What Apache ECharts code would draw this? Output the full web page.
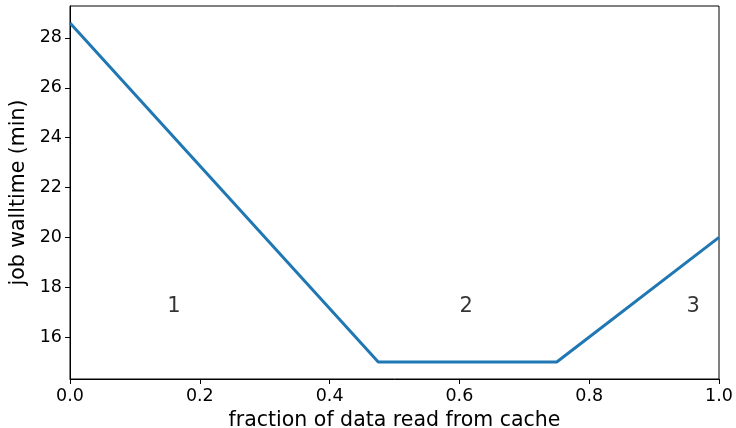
<!DOCTYPE html>
<html>
<head>
<meta charset="utf-8">
<script src="https://cdn.jsdelivr.net/npm/echarts@6/dist/echarts.min.js"></script>
<style>
  html, body { margin: 0; padding: 0; background: #fff; }
  #chart { width: 736px; height: 428px; }
</style>
</head>
<body>
<div id="chart"></div>
<script>
// Walltime model: three regimes as the cached fraction grows
const cacheFraction = [0.0, 0.475, 0.75, 1.0];
const walltimeMin = [28.6, 15.0, 15.0, 20.0];

// Regime labels and where they sit (x, y in data units)
const regimeNames = ['1', '2', '3'];
const regimeX = [0.15, 0.6, 0.95];
const regimeY = [17, 17, 17];

const xTicks = [0.0, 0.2, 0.4, 0.6, 0.8, 1.0];
const yTicks = [16, 18, 20, 22, 24, 26, 28];

const FONT = 'DejaVu Sans';

const chart = echarts.init(document.getElementById('chart'), null, { renderer: 'canvas' });

chart.setOption({
  animation: false,
  backgroundColor: '#fff',
  grid: {
    left: 70, right: 17, top: 6, bottom: 49,
    containLabel: false, outerBoundsMode: 'none',
    show: true, borderColor: '#000', borderWidth: 1, backgroundColor: 'transparent'
  },
  xAxis: {
    type: 'value', min: 0, max: 1, interval: 0.2,
    name: 'fraction of data read from cache',
    nameLocation: 'middle', nameGap: 28,
    nameTextStyle: { fontFamily: FONT, fontSize: 20.5, color: '#000' },
    axisLine: { lineStyle: { color: '#000', width: 1 } },
    axisTick: { show: true, length: 5, lineStyle: { color: '#000' }, customValues: xTicks },
    axisLabel: {
      fontFamily: FONT, fontSize: 17.5, color: '#000', margin: 8,
      customValues: xTicks, formatter: v => v.toFixed(1)
    },
    splitLine: { show: false }
  },
  yAxis: {
    type: 'value', min: 14.32, max: 29.28,
    name: 'job walltime (min)',
    nameLocation: 'middle', nameGap: 38, nameRotate: 90,
    nameTextStyle: { fontFamily: FONT, fontSize: 20.5, color: '#000' },
    axisLine: { show: true, lineStyle: { color: '#000', width: 1 } },
    axisTick: { show: true, length: 5, lineStyle: { color: '#000' }, customValues: yTicks },
    axisLabel: {
      fontFamily: FONT, fontSize: 17.5, color: '#000', margin: 8,
      customValues: yTicks, formatter: v => String(v)
    },
    splitLine: { show: false }
  },
  series: [
    {
      type: 'line',
      data: cacheFraction.map((x, i) => [x, walltimeMin[i]]),
      showSymbol: false,
      lineStyle: { color: '#1f77b4', width: 3 },
      itemStyle: { color: '#1f77b4' }
    },
    {
      type: 'scatter',
      symbolSize: 0,
      data: regimeNames.map((n, i) => ({ value: [regimeX[i], regimeY[i]], name: n })),
      label: {
        show: true, position: 'inside', align: 'left', verticalAlign: 'bottom',
        offset: [0, 5],
        formatter: p => p.name,
        fontFamily: FONT, fontSize: 21, color: '#000'
      },
      silent: true
    }
  ]
});
</script>
</body>
</html>
